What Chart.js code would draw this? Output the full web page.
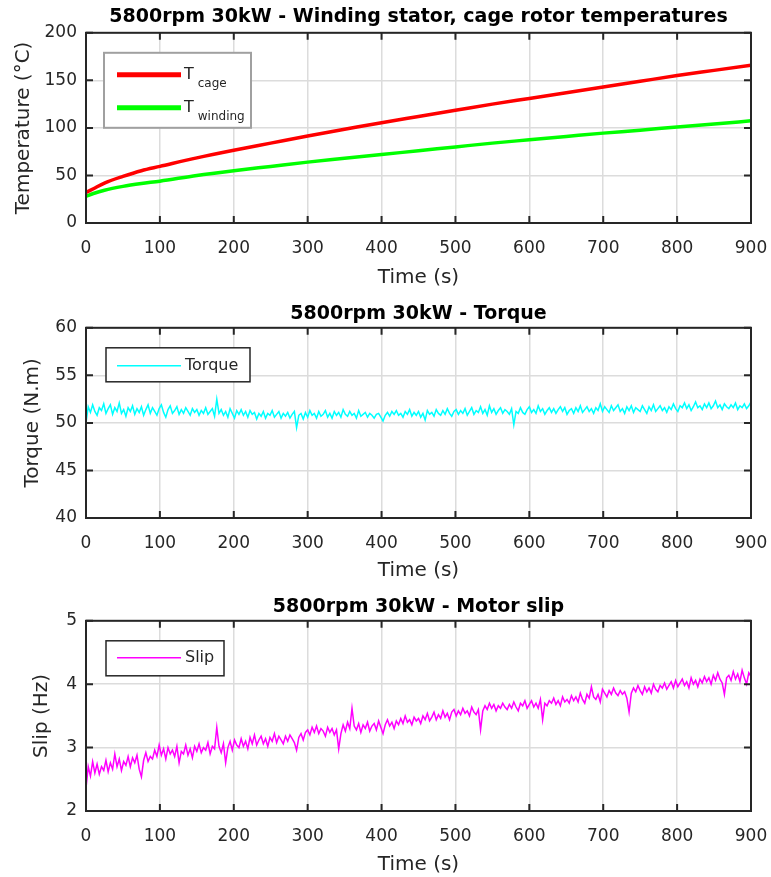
<!DOCTYPE html>
<html>
<head>
<meta charset="utf-8">
<title>5800rpm 30kW</title>
<script src="https://cdn.jsdelivr.net/npm/chart.js@4.4.1/dist/chart.umd.min.js"></script>
<style>
  body { margin: 0; background: #fff; }
  .panel { position: absolute; left: 0; width: 771px; }
</style>
</head>
<body>
<div class="panel" style="top:0;height:292px"><canvas id="tempChart"></canvas></div>
<div class="panel" style="top:292px;height:293px"><canvas id="torqueChart"></canvas></div>
<div class="panel" style="top:585px;height:292px"><canvas id="slipChart"></canvas></div>
<script>
// ----------------------------------------------------------
// data
const tempTimes = [0, 10, 25, 50, 75, 100, 150, 200, 250, 300, 350, 400, 450, 500, 550, 600, 650, 700, 750, 800, 850, 900];
const tCage = [32, 36, 42, 49, 55, 59.5, 68.5, 76.5, 84, 91.5, 98.5, 105.5, 112, 118.5, 125, 131, 137, 143, 149, 155, 160.5, 166];
const tWinding = [28, 31, 34.5, 38.5, 41.5, 44, 50, 55, 59.5, 64, 68, 72, 76, 80, 84, 87.5, 91, 94.5, 97.5, 101, 104, 107.5];

const sampleTimes = [
  0, 3, 6, 9, 12, 15, 18, 21, 24, 27,
  30, 33, 36, 39, 42, 45, 48, 51, 54, 57,
  60, 63, 66, 69, 72, 75, 78, 81, 84, 87,
  90, 93, 96, 99, 102, 105, 108, 111, 114, 117,
  120, 123, 126, 129, 132, 135, 138, 141, 144, 147,
  150, 153, 156, 159, 162, 165, 168, 171, 174, 177,
  180, 183, 186, 189, 192, 195, 198, 201, 204, 207,
  210, 213, 216, 219, 222, 225, 228, 231, 234, 237,
  240, 243, 246, 249, 252, 255, 258, 261, 264, 267,
  270, 273, 276, 279, 282, 285, 288, 291, 294, 297,
  300, 303, 306, 309, 312, 315, 318, 321, 324, 327,
  330, 333, 336, 339, 342, 345, 348, 351, 354, 357,
  360, 363, 366, 369, 372, 375, 378, 381, 384, 387,
  390, 393, 396, 399, 402, 405, 408, 411, 414, 417,
  420, 423, 426, 429, 432, 435, 438, 441, 444, 447,
  450, 453, 456, 459, 462, 465, 468, 471, 474, 477,
  480, 483, 486, 489, 492, 495, 498, 501, 504, 507,
  510, 513, 516, 519, 522, 525, 528, 531, 534, 537,
  540, 543, 546, 549, 552, 555, 558, 561, 564, 567,
  570, 573, 576, 579, 582, 585, 588, 591, 594, 597,
  600, 603, 606, 609, 612, 615, 618, 621, 624, 627,
  630, 633, 636, 639, 642, 645, 648, 651, 654, 657,
  660, 663, 666, 669, 672, 675, 678, 681, 684, 687,
  690, 693, 696, 699, 702, 705, 708, 711, 714, 717,
  720, 723, 726, 729, 732, 735, 738, 741, 744, 747,
  750, 753, 756, 759, 762, 765, 768, 771, 774, 777,
  780, 783, 786, 789, 792, 795, 798, 801, 804, 807,
  810, 813, 816, 819, 822, 825, 828, 831, 834, 837,
  840, 843, 846, 849, 852, 855, 858, 861, 864, 867,
  870, 873, 876, 879, 882, 885, 888, 891, 894, 897,
  900
];

const torque = [
  50.0, 51.7, 51.1, 51.9, 51.2, 50.8, 51.6, 51.3, 52.0, 51.0,
  51.5, 51.9, 50.9, 51.6, 51.2, 52.1, 51.0, 51.4, 50.7, 51.6,
  51.2, 51.8, 50.9, 51.5, 51.1, 51.7, 50.8, 51.4, 51.9, 51.0,
  51.6, 51.2, 50.8, 51.5, 51.9, 51.1, 50.6, 51.4, 51.8, 51.0,
  51.3, 51.7, 50.9, 51.4, 51.0, 51.6, 51.2, 50.8, 51.5, 51.1,
  51.4, 50.8, 51.3, 51.0, 51.6, 50.9, 51.2, 51.5, 50.7, 52.5,
  51.0, 51.4, 50.8, 51.2, 50.6, 51.5, 51.0, 50.5, 51.3, 50.9,
  51.4, 50.8, 51.2, 50.6, 51.3, 50.9, 51.1, 50.4, 51.0, 50.7,
  51.2, 50.5, 51.0, 50.8, 51.3, 50.6, 50.9, 51.2, 50.5, 51.0,
  50.7, 51.1, 50.5, 50.9, 51.2, 49.5, 50.8, 51.0, 50.4, 51.1,
  50.6, 51.3, 50.8, 51.0, 50.5, 51.2, 50.7, 50.9, 51.3, 50.6,
  51.0, 50.5, 51.2, 50.8, 51.1, 50.6, 51.4, 50.9, 50.7, 51.2,
  50.8, 51.0, 50.5, 51.3, 50.7, 50.9, 51.1, 50.6, 51.0, 50.8,
  50.5, 50.9, 51.0, 50.6, 50.2, 50.8, 51.1, 50.7, 51.2, 50.9,
  51.3, 50.8, 51.0, 50.6, 51.2, 50.9, 51.4, 50.7, 51.1, 50.8,
  51.2, 50.6, 51.0, 50.3, 51.3, 50.9, 51.1, 50.7, 51.4, 51.0,
  50.8, 51.3, 50.9, 51.5, 51.0, 50.7, 51.2, 51.4, 50.9, 51.3,
  51.0, 51.5, 50.8, 51.2, 51.6, 50.9, 51.3, 51.1, 51.7, 51.0,
  51.4, 50.8, 51.8, 51.1, 51.5, 50.9, 51.3, 51.6, 51.0, 51.4,
  51.2, 50.9, 51.5, 49.8, 51.2, 51.0, 51.6, 51.1, 50.9, 51.4,
  51.7, 51.1, 51.4, 51.0, 51.8, 51.2, 51.5, 50.9, 51.3, 51.6,
  51.1, 51.5, 51.0, 51.4, 51.7, 51.2, 51.6, 50.9, 51.3, 51.5,
  51.0, 51.6, 51.2, 51.8, 51.1, 51.4, 51.7, 51.2, 51.5, 51.0,
  51.6, 51.3, 52.0, 51.2, 51.7, 51.4, 51.1, 51.8, 51.3, 51.6,
  51.9, 51.2, 51.5, 51.0, 51.7, 51.3, 51.8, 51.1, 51.6, 51.4,
  51.2, 51.8, 51.4, 51.0, 51.7, 51.3, 51.9, 51.2, 51.5, 51.8,
  51.3, 51.6, 51.1, 51.7, 51.4, 52.0, 51.5, 51.2, 51.8, 51.6,
  52.1, 51.5, 51.9, 51.3, 51.7, 52.2, 51.6, 51.8, 51.4, 52.0,
  51.6, 52.1, 51.5, 51.8, 52.3, 51.6, 51.9, 51.4, 52.0, 51.7,
  51.5, 51.9, 51.6, 52.1, 51.4, 51.8, 51.6, 52.0, 51.5, 51.8,
  52.2
];

const slip = [
  2.36, 2.70, 2.55, 2.78, 2.60, 2.74, 2.58, 2.70, 2.64, 2.80,
  2.62, 2.76, 2.66, 2.90, 2.70, 2.82, 2.64, 2.78, 2.72, 2.86,
  2.70, 2.84, 2.76, 2.88, 2.66, 2.54, 2.80, 2.92, 2.78, 2.86,
  2.82, 2.96, 2.86, 3.04, 2.88, 2.98, 2.82, 3.00, 2.90, 2.96,
  2.86, 3.02, 2.76, 2.94, 2.90, 3.04, 2.88, 2.98, 2.84, 3.02,
  2.94, 3.06, 2.92, 3.00, 2.96, 3.08, 2.90, 3.02, 2.98, 3.32,
  3.02, 2.92, 3.06, 2.76, 3.00, 3.10, 2.96, 3.12, 3.04, 3.00,
  3.14, 3.02, 3.10, 2.98, 3.16, 3.06, 3.20, 3.04, 3.12, 3.18,
  3.06, 3.14, 3.02, 3.16, 3.10, 3.22, 3.08, 3.18, 3.12, 3.06,
  3.18, 3.10, 3.20, 3.14, 3.08, 2.96, 3.16, 3.22, 3.12, 3.24,
  3.28, 3.20, 3.32, 3.24, 3.34, 3.22, 3.30, 3.26, 3.18, 3.32,
  3.24, 3.30, 3.20, 3.28, 2.98, 3.22, 3.36, 3.26, 3.40, 3.30,
  3.62, 3.34, 3.28, 3.38, 3.24, 3.36, 3.30, 3.40, 3.26, 3.34,
  3.38, 3.28, 3.42, 3.32, 3.22, 3.36, 3.44, 3.34, 3.40, 3.30,
  3.42, 3.36, 3.46, 3.38, 3.50, 3.40, 3.44, 3.36, 3.48, 3.42,
  3.46, 3.38, 3.50, 3.44, 3.54, 3.42, 3.48, 3.56, 3.44, 3.52,
  3.46, 3.58, 3.48, 3.54, 3.44, 3.56, 3.60, 3.50, 3.58, 3.52,
  3.62, 3.54, 3.58, 3.50, 3.64, 3.56, 3.52, 3.60, 3.28, 3.58,
  3.66, 3.60, 3.70, 3.62, 3.68, 3.58, 3.66, 3.62, 3.70, 3.64,
  3.60, 3.68, 3.62, 3.72, 3.64, 3.58, 3.70, 3.66, 3.74, 3.62,
  3.68, 3.74, 3.64, 3.70, 3.62, 3.76, 3.44, 3.70, 3.66, 3.74,
  3.70, 3.78, 3.68, 3.74, 3.66, 3.80, 3.72, 3.76, 3.70, 3.82,
  3.74, 3.80, 3.72, 3.86, 3.76, 3.70, 3.84, 3.78, 3.96, 3.80,
  3.76, 3.84, 3.72, 3.92, 3.86, 3.80, 3.90, 3.84, 3.94, 3.86,
  3.82, 3.90, 3.84, 3.88, 3.78, 3.56, 3.86, 3.94, 3.88, 3.98,
  3.90, 3.84, 3.96, 3.88, 3.94, 3.86, 4.00, 3.92, 3.88, 3.98,
  3.94, 4.02, 3.92, 3.98, 4.04, 3.94, 4.06, 3.96, 4.02, 4.08,
  3.98, 4.04, 3.94, 4.10, 4.00, 4.06, 3.96, 4.08, 4.02, 4.12,
  4.04, 4.10, 4.00, 4.14, 4.06, 4.18, 4.08, 4.02, 3.84, 4.10,
  4.14, 4.06, 4.20, 4.08, 4.16, 4.04, 4.22, 4.10, 4.00, 4.18,
  4.12
];

// ----------------------------------------------------------
const FONT = '"DejaVu Sans", sans-serif';
const AXIS_COLOR = '#262626';

function toPoints(xs, ys) {
  return ys.map((y, i) => ({ x: xs[i], y: y }));
}

// box round the plot, inward ticks on all four sides, legend inside
const matlabAxes = {
  id: 'matlabAxes',
  afterDraw(chart, args, opts) {
    const { ctx, chartArea } = chart;
    const { left, right, top, bottom } = chartArea;
    ctx.save();
    ctx.strokeStyle = AXIS_COLOR;
    ctx.lineWidth = 2;
    ctx.beginPath();
    chart.scales.x.ticks.forEach((t) => {
      const px = chart.scales.x.getPixelForValue(t.value);
      ctx.moveTo(px, bottom); ctx.lineTo(px, bottom - 7);
      ctx.moveTo(px, top); ctx.lineTo(px, top + 7);
    });
    chart.scales.y.ticks.forEach((t) => {
      const py = chart.scales.y.getPixelForValue(t.value);
      ctx.moveTo(left, py); ctx.lineTo(left + 7, py);
      ctx.moveTo(right, py); ctx.lineTo(right - 7, py);
    });
    ctx.stroke();
    ctx.strokeRect(left, top, right - left, bottom - top);

    // legend
    const lg = opts.legend;
    const bx = left + lg.boxLeft, by = top + 20;
    ctx.fillStyle = '#fff';
    ctx.fillRect(bx, by, lg.width, lg.height);
    ctx.strokeStyle = lg.borderColor;
    ctx.lineWidth = lg.borderWidth;
    ctx.strokeRect(bx, by, lg.width, lg.height);
    chart.data.datasets.forEach((ds, i) => {
      const y = by + lg.rowTop + i * lg.rowGap;
      ctx.strokeStyle = ds.borderColor;
      ctx.lineWidth = lg.lineWidth;
      ctx.beginPath();
      ctx.moveTo(left + 31, y); ctx.lineTo(left + 95, y);
      ctx.stroke();
      ctx.fillStyle = AXIS_COLOR;
      ctx.textAlign = 'left';
      ctx.font = '16px ' + FONT;
      if (ds.subLabel) {
        ctx.textBaseline = 'alphabetic';
        ctx.fillText(ds.label, left + 98, y + 4);
        const w = ctx.measureText(ds.label).width;
        ctx.font = '12px ' + FONT;
        ctx.fillText(ds.subLabel, left + 98 + w + 4, y + 12);
      } else {
        ctx.textBaseline = 'middle';
        ctx.fillText(ds.label, left + 99, y);
      }
    });
    ctx.restore();
  },
};

// ----------------------------------------------------------
function createChart(canvasId, cfg) {
  const ctx = document.getElementById(canvasId).getContext('2d');
  return new Chart(ctx, {
    type: 'line',
    data: { datasets: cfg.datasets },
    options: {
      responsive: true,
      maintainAspectRatio: false,
      animation: false,
      layout: { padding: { left: 0, right: 20, top: 0, bottom: 0 } },
      elements: { point: { radius: 0 } },
      plugins: {
        legend: { display: false },
        tooltip: { enabled: false },
        title: {
          display: true,
          fullSize: false,
          text: cfg.title,
          color: '#000',
          font: { family: FONT, size: 19, weight: 'bold' },
          padding: cfg.titlePadding,
        },
        matlabAxes: { legend: cfg.legend },
      },
      scales: {
        x: {
          type: 'linear',
          min: 0,
          max: 900,
          afterFit(scale) {
            scale.height = cfg.xHeight;
            // keep the tick padding from widening the right margin
            scale.paddingLeft = 0;
            scale.paddingRight = 16;
          },
          border: { display: false },
          grid: { color: '#dcdcdc', lineWidth: 1.5, drawTicks: false },
          ticks: { stepSize: 100, padding: 15, color: AXIS_COLOR, font: { family: FONT, size: 17 } },
          title: {
            display: true,
            text: 'Time (s)',
            color: AXIS_COLOR,
            font: { family: FONT, size: 20 },
            padding: { top: 0, bottom: cfg.xTitleBottom },
          },
        },
        y: {
          min: cfg.yMin,
          max: cfg.yMax,
          afterFit(scale) { scale.width = 86; },
          border: { display: false },
          grid: { color: '#dcdcdc', lineWidth: 1.5, drawTicks: false },
          ticks: { stepSize: cfg.yStep, padding: 9, color: AXIS_COLOR, font: { family: FONT, size: 17 } },
          title: {
            display: true,
            text: cfg.yTitle,
            color: AXIS_COLOR,
            font: { family: FONT, size: 20 },
            padding: { top: cfg.yTitleOffset, bottom: 0 },
          },
        },
      },
    },
    plugins: [matlabAxes],
  });
}

// ----------------------------------------------------------
createChart('tempChart', {
  title: '5800rpm 30kW - Winding stator, cage rotor temperatures',
  titlePadding: { top: 6, bottom: 4 },
  xHeight: 69,
  xTitleBottom: 2,
  yMin: 0, yMax: 200, yStep: 50,
  yTitle: 'Temperature (°C)',
  yTitleOffset: 12,
  legend: { boxLeft: 18, width: 147, height: 75, rowTop: 22, rowGap: 33, lineWidth: 5, borderColor: '#a0a0a0', borderWidth: 2 },
  datasets: [
    { label: 'T', subLabel: 'cage', data: toPoints(tempTimes, tCage), borderColor: '#ff0000', borderWidth: 3.5, cubicInterpolationMode: 'monotone' },
    { label: 'T', subLabel: 'winding', data: toPoints(tempTimes, tWinding), borderColor: '#00ff00', borderWidth: 3.5, cubicInterpolationMode: 'monotone' },
  ],
});

createChart('torqueChart', {
  title: '5800rpm 30kW - Torque',
  titlePadding: { top: 11, bottom: 2 },
  xHeight: 67,
  xTitleBottom: 2,
  yMin: 40, yMax: 60, yStep: 5,
  yTitle: 'Torque (N.m)',
  yTitleOffset: 21,
  legend: { boxLeft: 20, width: 144, height: 34, rowTop: 18, rowGap: 0, lineWidth: 1.5, borderColor: AXIS_COLOR, borderWidth: 1.5 },
  datasets: [
    { label: 'Torque', data: toPoints(sampleTimes, torque), borderColor: '#00ffff', borderWidth: 1.5 },
  ],
});

createChart('slipChart', {
  title: '5800rpm 30kW - Motor slip',
  titlePadding: { top: 11, bottom: 2 },
  xHeight: 66,
  xTitleBottom: 0,
  yMin: 2, yMax: 5, yStep: 1,
  yTitle: 'Slip (Hz)',
  yTitleOffset: 30,
  legend: { boxLeft: 20, width: 118, height: 35, rowTop: 17, rowGap: 0, lineWidth: 1.5, borderColor: AXIS_COLOR, borderWidth: 1.5 },
  datasets: [
    { label: 'Slip', data: toPoints(sampleTimes, slip), borderColor: '#ff00ff', borderWidth: 1.5 },
  ],
});
</script>
</body>
</html>
